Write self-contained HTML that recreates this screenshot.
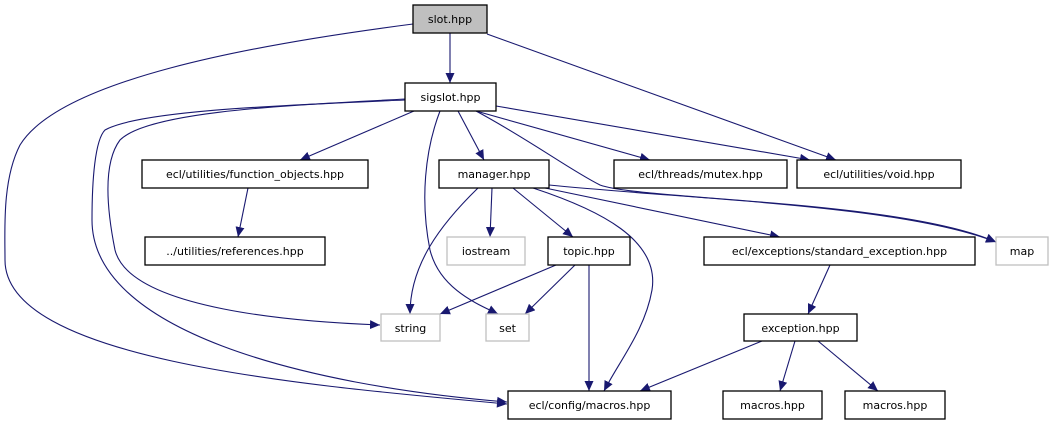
<!DOCTYPE html>
<html><head><meta charset="utf-8"><style>
html,body{margin:0;padding:0;background:#fff;}
svg{display:block;}
text{font-family:"DejaVu Sans","Liberation Sans",sans-serif;font-size:11px;fill:#000;}
</style></head><body>
<svg width="1053" height="427" viewBox="0 0 1053 427" xmlns="http://www.w3.org/2000/svg">
<defs>
<marker id="a" markerUnits="userSpaceOnUse" markerWidth="11" markerHeight="9" refX="10" refY="4.5" orient="auto">
<path d="M0,0 L10,4.5 L0,9 Z" fill="#191970"/>
</marker>
</defs>
<g fill="none" stroke="#191970" stroke-width="1.1" marker-end="url(#a)">
<path d="M450,33 L450,83"/>
<path d="M413,24 C250,45 60,80 20,145 C2,180 5,230 5,260 C5,360 300,385 507,404"/>
<path d="M487,34 L836,160"/>
<path d="M414,111 L300,160"/>
<path d="M248,188 L238,237"/>
<path d="M405,99 C300,105 150,110 120,140 C105,160 105,200 115,250 C130,310 300,322 380,325"/>
<path d="M405,100 C290,105 140,110 105,130 C95,140 92,180 92,220 C92,330 300,385 507,402"/>
<path d="M440,111 C425,150 420,200 430,250 C440,290 480,305 498,314"/>
<path d="M458,111 L484,160"/>
<path d="M476,111 L650,160"/>
<path d="M496,106 L810,160"/>
<path d="M476,111 C530,140 570,170 600,185 C640,200 900,200 996,242"/>
<path d="M549,185 C700,200 900,205 996,242"/>
<path d="M545,188 L780,237"/>
<path d="M492,188 L490,237"/>
<path d="M513,188 L573,237"/>
<path d="M478,188 C440,225 410,265 410,314"/>
<path d="M533,188 C600,210 660,240 652,290 C645,330 620,360 604,391"/>
<path d="M556,265 L440,314"/>
<path d="M575,265 L525,314"/>
<path d="M589,265 L589,391"/>
<path d="M830,265 L808,314"/>
<path d="M762,341 L640,391"/>
<path d="M795,341 L780,391"/>
<path d="M818,341 L878,391"/>
</g>
<g stroke-width="1.3">
<rect x="413" y="5" width="74" height="28" fill="#bfbfbf" stroke="#000"/>
<rect x="405" y="83" width="91" height="28" fill="#fff" stroke="#000"/>
<rect x="142" y="160" width="226" height="28" fill="#fff" stroke="#000"/>
<rect x="439" y="160" width="110" height="28" fill="#fff" stroke="#000"/>
<rect x="614" y="160" width="173" height="28" fill="#fff" stroke="#000"/>
<rect x="797" y="160" width="164" height="28" fill="#fff" stroke="#000"/>
<rect x="145" y="237" width="180" height="28" fill="#fff" stroke="#000"/>
<rect x="447" y="237" width="78" height="28" fill="#fff" stroke="#bfbfbf"/>
<rect x="548" y="237" width="82" height="28" fill="#fff" stroke="#000"/>
<rect x="704" y="237" width="271" height="28" fill="#fff" stroke="#000"/>
<rect x="996" y="237" width="52" height="28" fill="#fff" stroke="#bfbfbf"/>
<rect x="381" y="314" width="59" height="27" fill="#fff" stroke="#bfbfbf"/>
<rect x="486" y="314" width="43" height="27" fill="#fff" stroke="#bfbfbf"/>
<rect x="744" y="314" width="113" height="27" fill="#fff" stroke="#000"/>
<rect x="508" y="391" width="163" height="28" fill="#fff" stroke="#000"/>
<rect x="723" y="391" width="99" height="28" fill="#fff" stroke="#000"/>
<rect x="845" y="391" width="100" height="28" fill="#fff" stroke="#000"/>
</g>
<g text-anchor="middle">
<text x="450" y="23">slot.hpp</text>
<text x="450.5" y="101">sigslot.hpp</text>
<text x="255" y="178">ecl/utilities/function_objects.hpp</text>
<text x="494" y="178">manager.hpp</text>
<text x="700.5" y="178">ecl/threads/mutex.hpp</text>
<text x="879" y="178">ecl/utilities/void.hpp</text>
<text x="235" y="255">../utilities/references.hpp</text>
<text x="486" y="255">iostream</text>
<text x="589" y="255">topic.hpp</text>
<text x="839.5" y="255">ecl/exceptions/standard_exception.hpp</text>
<text x="1022" y="255">map</text>
<text x="410.5" y="332">string</text>
<text x="507.5" y="332">set</text>
<text x="800.5" y="332">exception.hpp</text>
<text x="589.5" y="409">ecl/config/macros.hpp</text>
<text x="772.5" y="409">macros.hpp</text>
<text x="895" y="409">macros.hpp</text>
</g>
</svg>
</body></html>
